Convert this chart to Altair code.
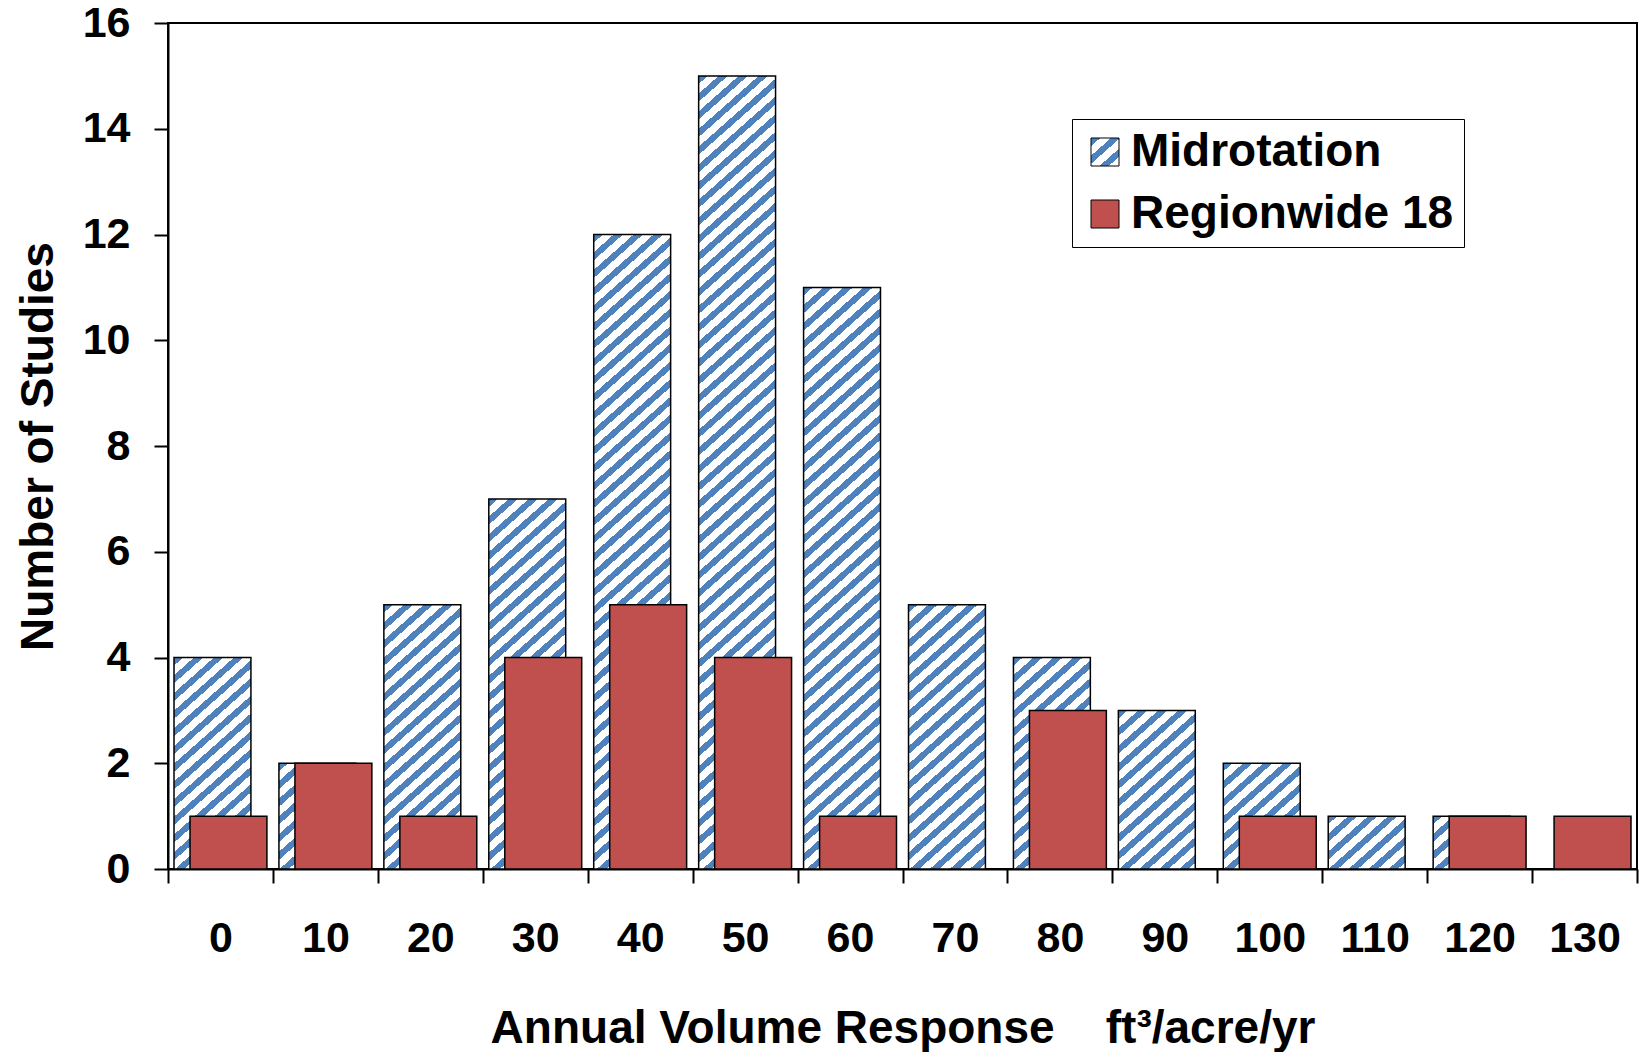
import altair as alt
import pandas as pd

# Histogram of annual volume response (ft3/acre/yr) by study group
bins = ["0", "10", "20", "30", "40", "50", "60", "70", "80", "90", "100", "110", "120", "130"]
midrotation = [4, 2, 5, 7, 12, 15, 11, 5, 4, 3, 2, 1, 1, 0]
regionwide = [1, 2, 1, 4, 5, 4, 1, 0, 3, 0, 1, 0, 1, 1]

series_names = ["Midrotation", "Regionwide 18"]

BLUE = "#4F81BD"
RED = "#C0504D"
FONT = "Liberation Sans"

# plot-area geometry
W, H = 1469, 846
Y_MAX = 16
BAND = W / len(bins)
BAR_FRAC = 0.733
BAR_W = BAND * BAR_FRAC
PX_PER_UNIT = H / Y_MAX
SHIFT = 8             # horizontal offset of each series from the band centre
PERIOD_X = 20.0       # hatch repeat measured along a horizontal edge
PERIOD_Y = 17.7       # hatch repeat measured along a vertical edge
STRIPE_FILL = 0.46    # share of each repeat that is blue


def hatch_stops(n_periods):
    stops = []
    k = 0
    while k < n_periods:
        a = k / n_periods
        b = min((k + STRIPE_FILL) / n_periods, 1.0)
        c = min((k + 1) / n_periods, 1.0)
        stops += [
            {"offset": round(a, 5), "color": BLUE},
            {"offset": round(b, 5), "color": BLUE},
            {"offset": round(b, 5), "color": "white"},
            {"offset": round(c, 5), "color": "white"},
        ]
        k += 1
    return stops


def hatch_gradient(w, h):
    # the phase x/PERIOD_X + y/PERIOD_Y is constant along each stripe
    fx, fy = w / PERIOD_X, h / PERIOD_Y
    n = fx + fy
    k = n / (fx * fx + fy * fy)
    return {
        "gradient": "linear",
        "x1": 0, "y1": 0,
        "x2": round(fx * k, 6), "y2": round(fy * k, 6),
        "stops": hatch_stops(n),
    }


def hatch_expr(size):
    g = hatch_gradient(size, size)
    parts = ",".join("{offset:%s,color:'%s'}" % (st["offset"], st["color"]) for st in g["stops"])
    return ("{gradient:'linear',x1:0,y1:0,x2:%s,y2:%s,stops:[" % (g["x2"], g["y2"])) + parts + "]}"


mid_df = pd.DataFrame({"bin": bins, "count": midrotation, "series": series_names[0]})
reg_df = pd.DataFrame({"bin": bins, "count": regionwide, "series": series_names[1]})
reg_df = reg_df[reg_df["count"] > 0]

x_enc = alt.X(
    "bin:N",
    sort=bins,
    scale=alt.Scale(domain=bins, paddingInner=0, paddingOuter=0),
    axis=alt.Axis(
        labelAngle=0,
        tickBand="extent",
        labelPadding=34,
        titleY=173,
        titleBaseline="alphabetic",
    ),
    title="Annual Volume Response \u00a0\u00a0\u00a0ft\u00b3/acre/yr",
)
y_enc = alt.Y(
    "count:Q",
    scale=alt.Scale(domain=[0, Y_MAX], nice=False),
    axis=alt.Axis(
        values=list(range(0, Y_MAX + 1, 2)),
        grid=False,
        labelPadding=24,
        titleX=-116,
        titleY=H / 2,
        titleAngle=270,
        titleBaseline="alphabetic",
        titleAlign="center",
    ),
    title="Number of Studies",
)

layers = []
for b, v in zip(bins, midrotation):
    if v <= 0:
        continue
    layers.append(
        alt.Chart(mid_df)
        .transform_filter(alt.datum.bin == b)
        .mark_bar(
            fill=hatch_gradient(BAR_W, v * PX_PER_UNIT),
            stroke="black",
            strokeWidth=1.5,
            width=alt.RelativeBandSize(BAR_FRAC),
            xOffset=-SHIFT,
        )
        .encode(x=x_enc, y=y_enc)
    )

layers.append(
    alt.Chart(reg_df)
    .mark_bar(
        stroke="black",
        strokeWidth=1.5,
        width=alt.RelativeBandSize(BAR_FRAC),
        xOffset=SHIFT,
        opacity=1,
    )
    .encode(
        x=x_enc,
        y=y_enc,
        color=alt.Color(
            "series:N",
            scale=alt.Scale(domain=series_names, range=[{"expr": hatch_expr(28)}, RED]),
            legend=alt.Legend(
                title=None,
                orient="none",
                legendX=904,
                legendY=96,
                fillColor="white",
                strokeColor="black",
                padding=10,
                symbolType="square",
                symbolSize=784,
                symbolStrokeColor="black",
                symbolStrokeWidth=1,
                symbolOpacity=1,
                labelFont=FONT,
                labelFontSize=46,
                labelFontWeight="bold",
                labelColor="black",
                labelOffset=3,
                rowPadding=16,
                labelLimit=600,
            ),
        ),
    )
)

chart = (
    alt.layer(*layers)
    .properties(
        width=W,
        height=H,
        autosize=alt.AutoSizeParams(type="none"),
        padding={"left": 168, "top": 23, "right": 4, "bottom": 183},
        background="white",
    )
    .configure_view(stroke="black", strokeWidth=2)
    .configure_axis(
        labelFont=FONT,
        labelFontSize=43,
        labelFontWeight="bold",
        labelColor="black",
        titleFont=FONT,
        titleFontSize=46,
        titleFontWeight="bold",
        titleColor="black",
        domainColor="black",
        domainWidth=2,
        tickColor="black",
        tickWidth=2,
        tickSize=14,
    )
)

chart.save("out.html", embed_options={"renderer": "svg", "actions": False})
